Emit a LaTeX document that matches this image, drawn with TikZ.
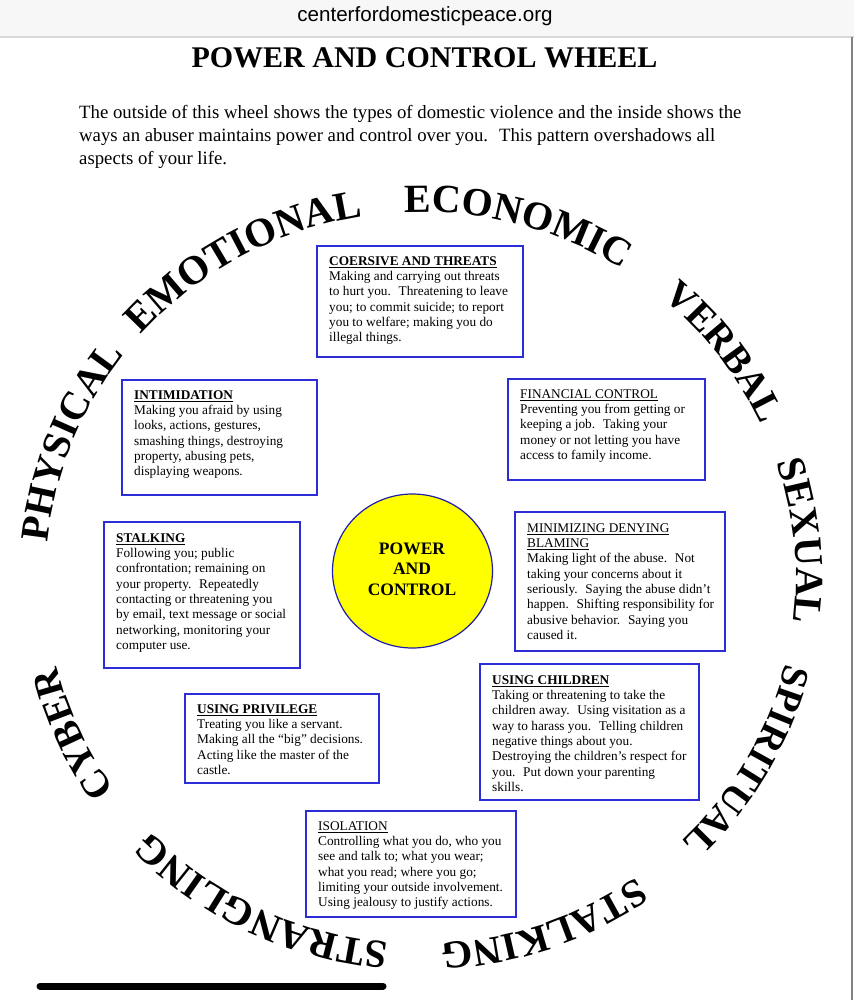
\documentclass[tikz,border=0pt]{standalone}
\usepackage{fontspec}
\setmainfont{Liberation Serif}
\newfontfamily\urlfont{Liberation Sans}
\usetikzlibrary{decorations.text,shapes.geometric}
\definecolor{boxblue}{RGB}{45,45,215}
\definecolor{ringblue}{RGB}{30,30,170}
\definecolor{wheelyellow}{RGB}{255,255,0}
\definecolor{barback}{RGB}{247,247,247}
\definecolor{barline}{RGB}{216,216,216}
\definecolor{pageline}{RGB}{130,130,130}
\newcommand{\wheelfont}[1]{\fontsize{#1}{#1}\selectfont\bfseries}
\newcommand{\hd}[1]{\underline{\textbf{#1}}}

\begin{document}
\begin{tikzpicture}[x=1pt,y=1pt,boxtext/.style={anchor=north west,inner sep=0pt,align=left,font=\fontsize{13.3}{15.33}\selectfont,execute at begin node=\strut},boxline/.style={boxblue,line width=1.3pt},wordarc/.style={decorate,decoration={text along path,text align={fit to path}}}]
\useasboundingbox (0,0) rectangle (854,-1000);
\fill[barback] (0,0) rectangle (854,-36);
\draw[barline,line width=1.5pt] (0,-37) -- (854,-37);
\draw[pageline,line width=1.2pt] (852,-37) -- (852,-1000);
\draw[black,line width=7pt,line cap=round] (40,-986) -- (383,-986);
\node[font=\urlfont\fontsize{20.6}{20.6}\selectfont] (url) at (425,-16) {centerfordomesticpeace.org};
\node[font=\fontsize{30}{30}\selectfont\bfseries,anchor=base] (title) at (424.5,-68) {POWER AND CONTROL WHEEL};
\node[anchor=north west,inner sep=0pt,align=left,font=\fontsize{18.76}{23}\selectfont,execute at begin node=\strut] (intro) at (79,-105) {The outside of this wheel shows the types of domestic violence and the inside shows the\\
ways an abuser maintains power and control over you.~ This pattern overshadows all\\
aspects of your life.};

\node[ellipse,draw=ringblue,line width=1.2pt,fill=wheelyellow,minimum width=160,minimum height=154,inner sep=0pt] (center) at (412.5,-571) {};
\node[align=center,font=\fontsize{17.5}{20.5}\selectfont\bfseries] (centertext) at (412,-569) {POWER\\AND\\CONTROL};

\foreach \w/\a/\b/\s in %
{ECONOMIC/92.5/57.6/40,VERBAL/50/26.7/39,SEXUAL/18.4/-6.1/40,SPIRITUAL/-13.5/-45.5/38.5,STALKING/-55/-86.2/39.5,%
STRANGLING/-95/-135.5/40,CYBER/-144.8/-165.1/39,PHYSICAL/174.5/143/40,EMOTIONAL/138.4/99.1/40.5} {
   \path[wordarc,decoration={text/.expanded={|\noexpand\wheelfont{\s}|\w}}] (421,-578) ++(\a:375 and 366) arc[start angle=\a,end angle=\b,x radius=375,y radius=366];
}

\draw[boxline] (317,-246) rectangle (523,-357);
\node[boxtext] (coersive) at (329,-256.3) {\hd{COERSIVE AND THREATS}\\
Making and carrying out threats\\
to hurt you.~ Threatening to leave\\
you; to commit suicide; to report\\
you to welfare; making you do\\
illegal things.};

\draw[boxline] (122,-380) rectangle (317,-495);
\node[boxtext] (intimidation) at (134,-390.3) {\hd{INTIMIDATION}\\
Making you afraid by using\\
looks, actions, gestures,\\
smashing things, destroying\\
property, abusing pets,\\
displaying weapons.};

\draw[boxline] (104,-522) rectangle (300,-668);
\node[boxtext] (stalking) at (116,-533.3) {\hd{STALKING}\\
Following you; public\\
confrontation; remaining on\\
your property.~ Repeatedly\\
contacting or threatening you\\
by email, text message or social\\
networking, monitoring your\\
computer use.};

\draw[boxline] (508,-379) rectangle (705,-480);
\node[boxtext] (financial) at (520,-389.3) {\underline{FINANCIAL CONTROL}\\
Preventing you from getting or\\
keeping a job.~ Taking your\\
money or not letting you have\\
access to family income.};

\draw[boxline] (515,-512) rectangle (725,-651);
\node[boxtext] (minimizing) at (527,-523.3) {\underline{MINIMIZING DENYING}\\
\underline{BLAMING}\\
Making light of the abuse.~ Not\\
taking your concerns about it\\
seriously.~ Saying the abuse didn’t\\
happen.~ Shifting responsibility for\\
abusive behavior.~ Saying you\\
caused it.};

\draw[boxline] (480,-664) rectangle (699,-800);
\node[boxtext] (children) at (492,-675.3) {\hd{USING CHILDREN}\\
Taking or threatening to take the\\
children away.~ Using visitation as a\\
way to harass you.~ Telling children\\
negative things about you.\\
Destroying the children’s respect for\\
you.~ Put down your parenting\\
skills.};

\draw[boxline] (185,-694) rectangle (379,-783);
\node[boxtext] (privilege) at (197,-704.3) {\hd{USING PRIVILEGE}\\
Treating you like a servant.\\
Making all the “big” decisions.\\
Acting like the master of the\\
castle.};

\draw[boxline] (306,-811) rectangle (516,-917);
\node[boxtext] (isolation) at (318,-821.3) {\underline{ISOLATION}\\
Controlling what you do, who you\\
see and talk to; what you wear;\\
what you read; where you go;\\
limiting your outside involvement.\\
Using jealousy to justify actions.};
\end{tikzpicture}
\end{document}
